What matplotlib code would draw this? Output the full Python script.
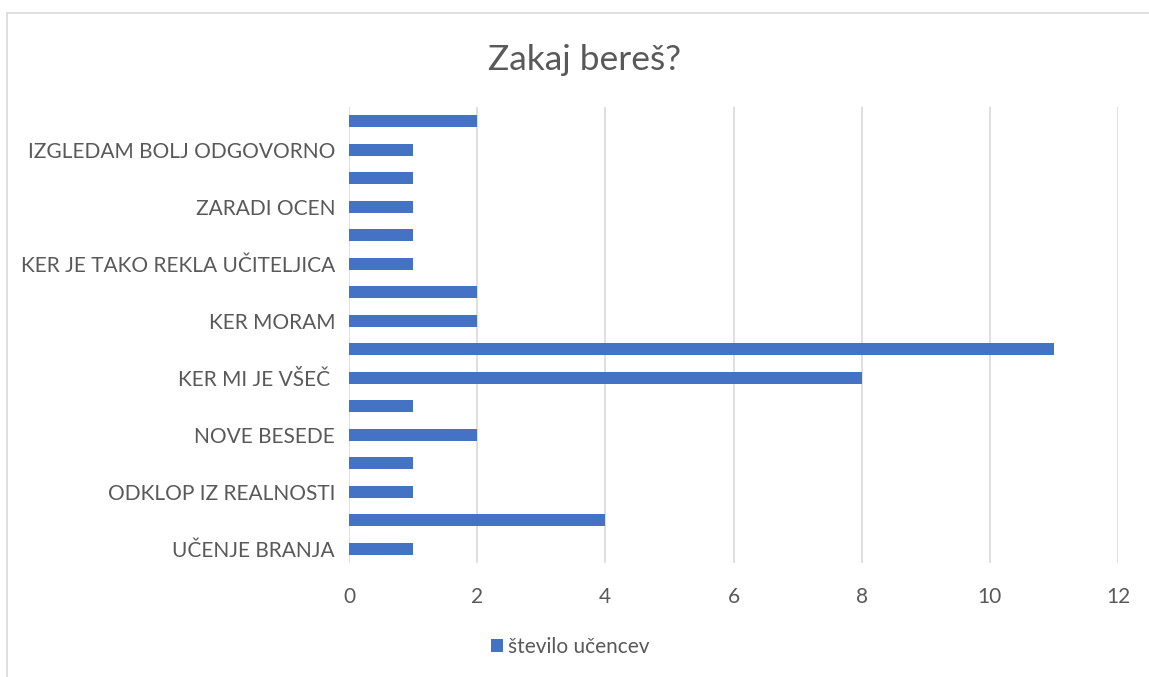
import matplotlib.pyplot as plt
from matplotlib.patches import Rectangle
import numpy as np

# kategorije od spodaj navzgor (skrite oznake so prazne)
categories = [
    "UČENJE BRANJA", "",
    "ODKLOP IZ REALNOSTI", "",
    "NOVE BESEDE", "",
    "KER MI JE VŠEČ ", "",
    "KER MORAM", "",
    "KER JE TAKO REKLA UČITELJICA", "",
    "ZARADI OCEN", "",
    "IZGLEDAM BOLJ ODGOVORNO", "",
]
values = [1, 4, 1, 1, 2, 1, 8, 11, 2, 2, 1, 1, 1, 1, 1, 2]
x_ticks = [0, 2, 4, 6, 8, 10, 12]
series_name = "število učencev"
title = "Zakaj bereš?"

plt.rcParams['font.family'] = ['Lato', 'DejaVu Sans']
text_color = "#595959"
bar_color = "#4472C4"
grid_color = "#d9d9d9"

fig = plt.figure(figsize=(11.49, 6.77), dpi=100)

# okvir grafikona
fig.patches.append(Rectangle((7 / 1149, -0.1), 1.2, 1.1 - 13 / 677,
                             transform=fig.transFigure, fill=False,
                             edgecolor=grid_color, lw=1.2))

ax = fig.add_axes([349 / 1149, 1 - 563 / 677, 769 / 1149, 456 / 677])

y = np.arange(len(categories))
ax.barh(y, values, height=0.41, color=bar_color, label=series_name, zorder=3)

ax.set_xlim(0, 12)
ax.set_ylim(-0.5, len(categories) - 0.5)
ax.set_xticks(x_ticks)
ax.set_xticklabels([str(t) for t in x_ticks], fontsize=15, color=text_color)
ax.set_yticks(y)
ax.set_yticklabels(categories, fontsize=15, color=text_color)
ax.tick_params(axis='both', length=0)
ax.tick_params(axis='x', pad=17)
ax.tick_params(axis='y', pad=10)

ax.grid(axis='x', color=grid_color, lw=1.2, zorder=0)
for s in ax.spines.values():
    s.set_visible(False)

fig.text(585 / 1149, 1 - 60 / 677, title, ha='center', va='center',
         fontsize=25.5, color=text_color)

fig.legend(loc='center', bbox_to_anchor=(570 / 1149, 1 - 647 / 677),
           frameon=False, fontsize=15, handlelength=0.6, handleheight=0.6,
           handletextpad=0.2, labelcolor=text_color)

fig.savefig("out.png", dpi=100)
